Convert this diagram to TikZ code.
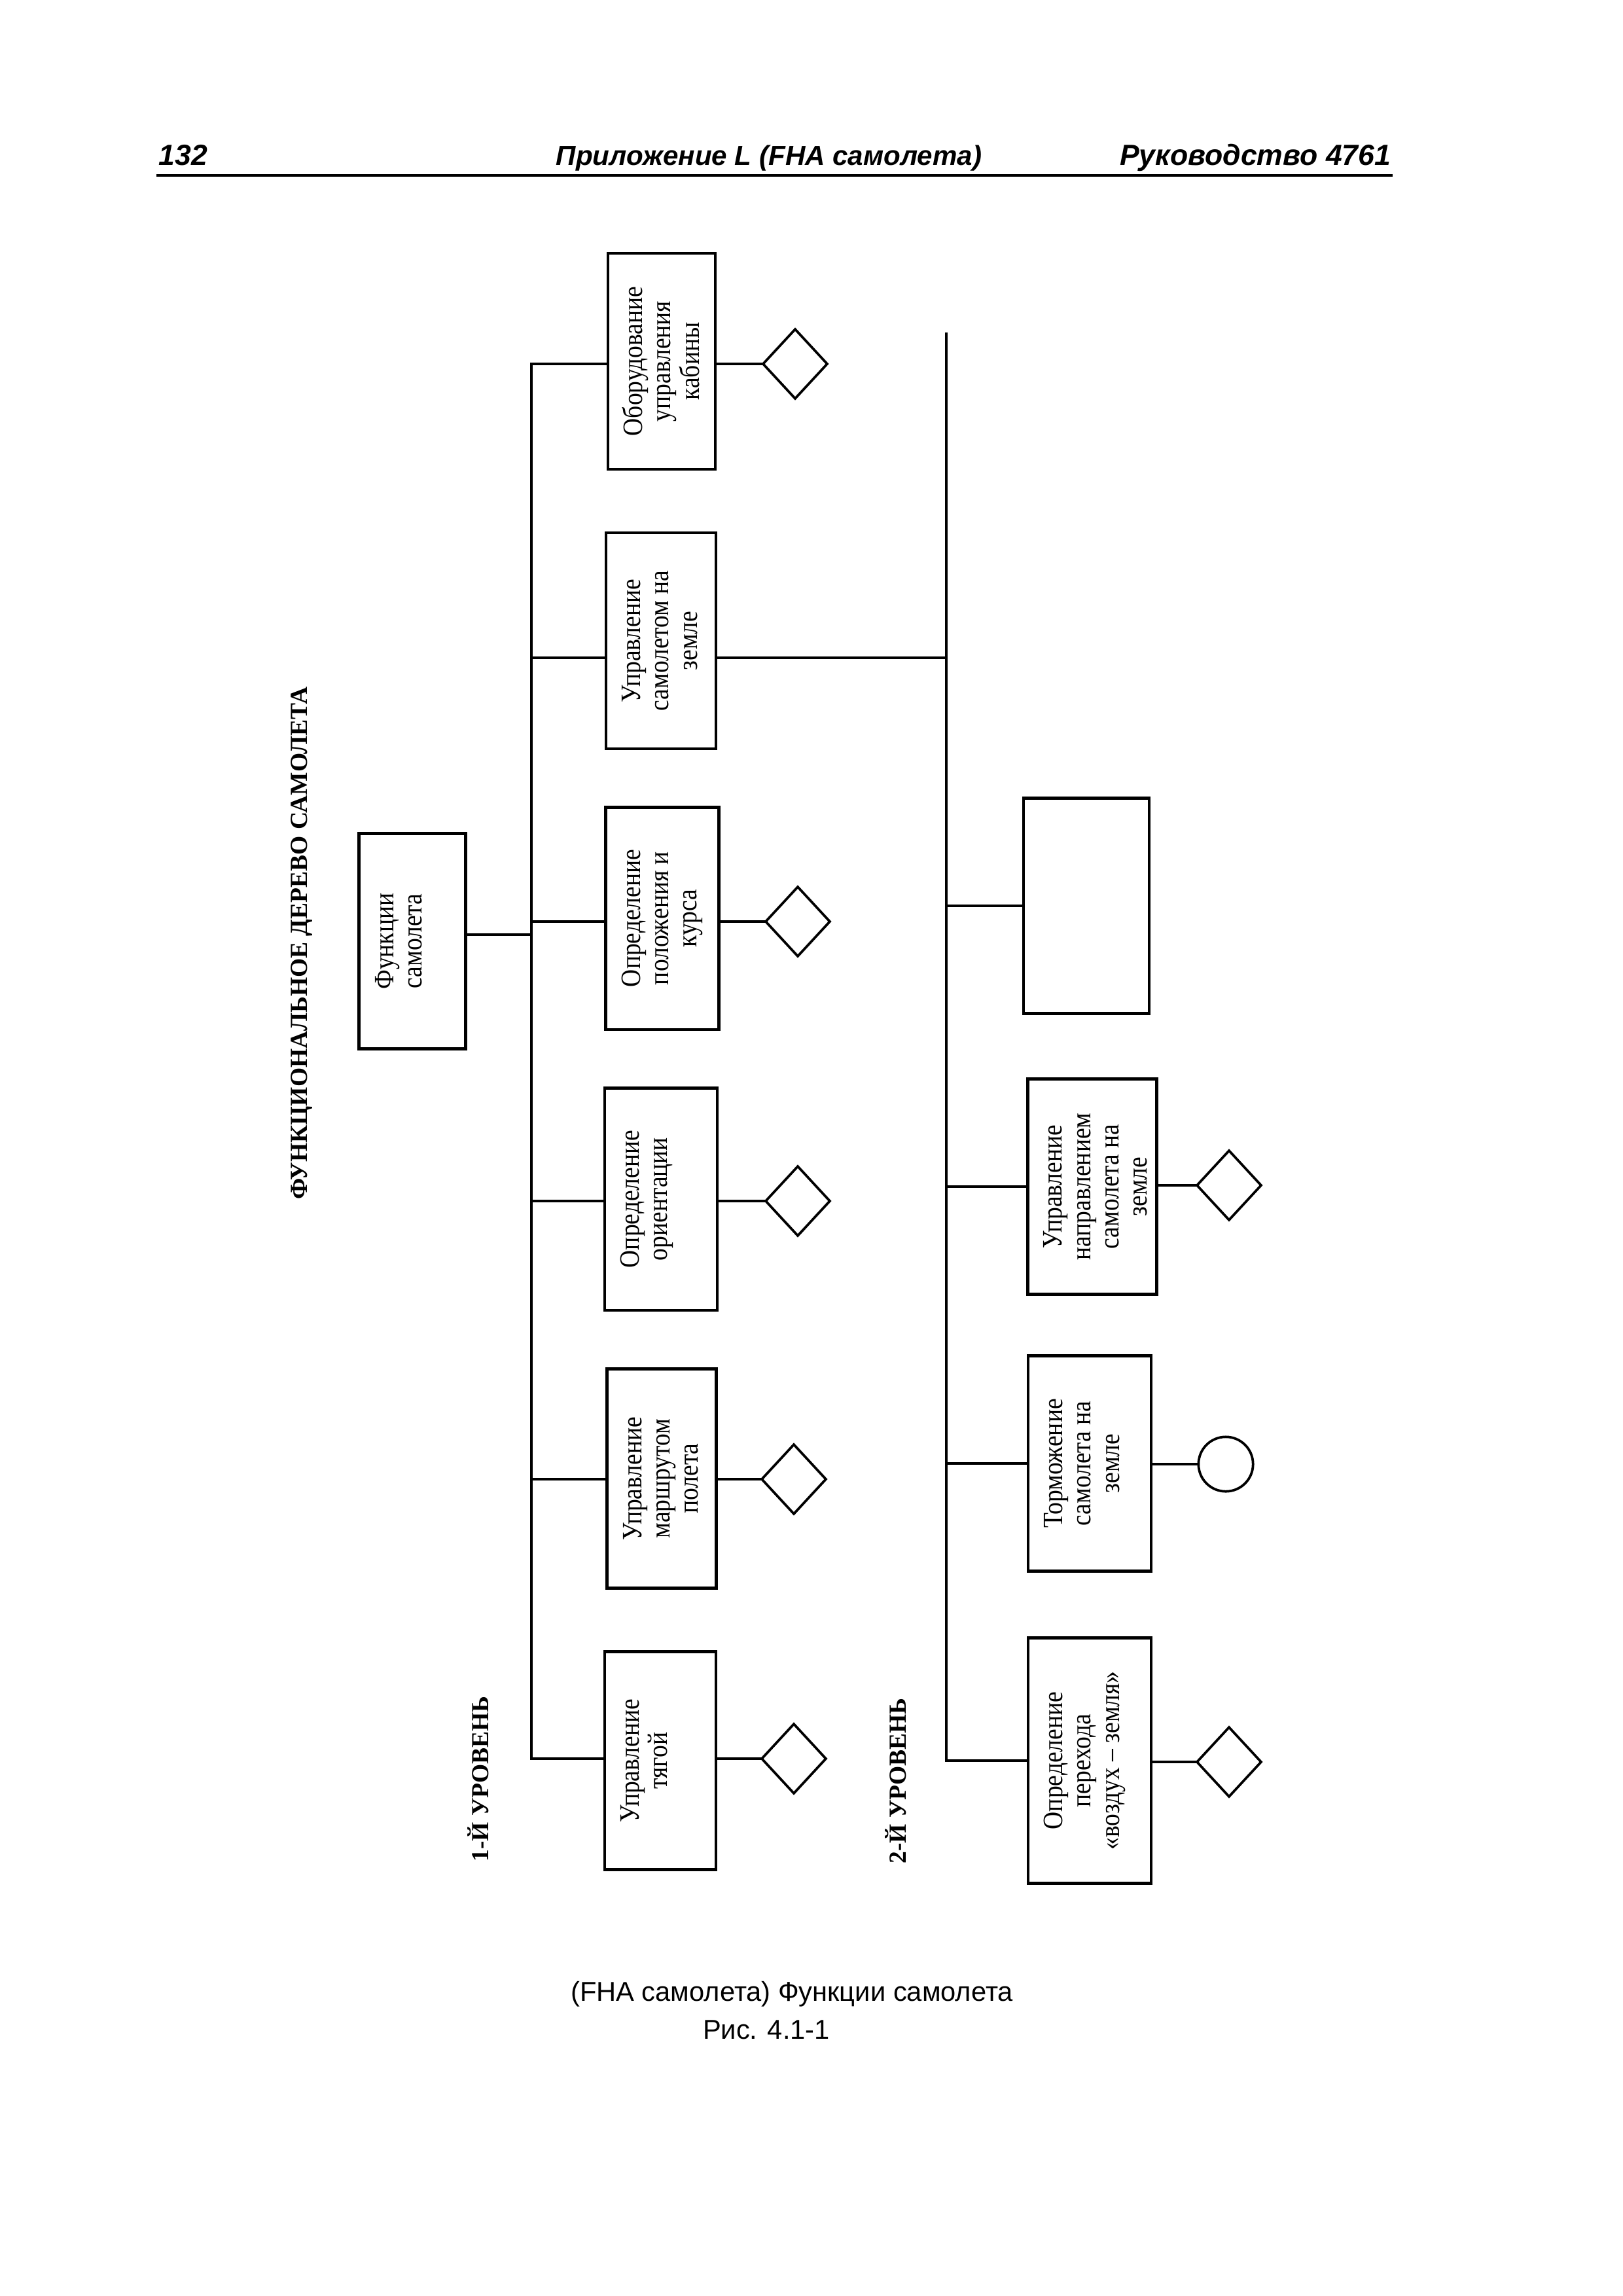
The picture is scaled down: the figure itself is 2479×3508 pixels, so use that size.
\documentclass[tikz,border=0pt]{standalone}
\usepackage{graphicx}
\usepackage{fontspec}
\setmainfont{Liberation Serif}
\newfontfamily\hdrfont{Liberation Sans}
\usetikzlibrary{shapes.geometric}
% #1 = box width on page, #2 = box height on page (both without unit, in pt)
\newcommand{\boxtxt}[3]{\rotatebox{90}{\scalebox{0.875}[1]{\parbox[c][#1pt][t]{\dimexpr #2pt*8/7\relax}{\fontsize{10.3}{10.4}\selectfont\centering\rule{0pt}{12.6pt}#3}}}}
\tikzset{
  fnbox/.style={draw, line width=1.1pt, inner sep=0pt, outer sep=0pt, rectangle},
  conn/.style={line width=0.95pt},
  dmd/.style={draw, diamond, line width=0.9pt, inner sep=0pt, outer sep=0pt, minimum width=23.5pt, minimum height=25.4pt},
  crc/.style={draw, circle, line width=0.9pt, inner sep=0pt, outer sep=0pt, minimum size=20pt},
  lvl/.style={rotate=90, inner sep=0pt, font=\fontsize{9}{11}\selectfont\bfseries},
  hdr/.style={inner sep=0pt, font=\hdrfont\fontsize{10.7}{13}\selectfont\bfseries\itshape},
  captxt/.style={inner sep=0pt, font=\hdrfont\fontsize{10}{12}\selectfont},
}
\begin{document}
\begin{tikzpicture}[x=0.24pt, y=-0.24pt]
\path[use as bounding box, fill=white] (0,0) rectangle (2479,3508);

% header
\node[hdr, anchor=base west] (pg) at (242,253) {132};
\node[hdr, anchor=base, font=\hdrfont\fontsize{10.1}{13}\selectfont\bfseries\itshape] (ttl) at (1175,253) {Приложение L (FHA самолета)};
\node[hdr, anchor=base east] (man) at (2126,253) {Руководство 4761};
\coordinate (rl) at (239,268);
\coordinate (rr) at (2128,268);
\draw[line width=1.15pt] (rl) -- (rr);

% title and level labels
\node[lvl] (tree) at (461,1441) {ФУНКЦИОНАЛЬНОЕ ДЕРЕВО САМОЛЕТА};
\node[lvl] (lev1) at (731,2718) {1-Й УРОВЕНЬ};
\node[lvl] (lev2) at (1369,2721) {2-Й УРОВЕНЬ};

% root
\node[fnbox] (root) at (630,1438) {\boxtxt{39.1}{79}{Функции\\самолета}};

% level 1 boxes
\node[fnbox] (b1) at (1011,552) {\boxtxt{39.4}{79.2}{Оборудование\\управления\\кабины}};
\node[fnbox] (b2) at (1010,979) {\boxtxt{40.3}{79.2}{Управление\\самолетом на\\земле}};
\node[fnbox] (b3) at (1012,1403) {\boxtxt{41.5}{81.5}{Определение\\положения и\\курса}};
\node[fnbox] (b4) at (1010,1832) {\boxtxt{41.3}{81.5}{Определение\\ориентации}};
\node[fnbox] (b5) at (1011,2259) {\boxtxt{40}{80.4}{Управление\\маршрутом\\полета}};
\node[fnbox] (b6) at (1009,2690) {\boxtxt{40.8}{79.9}{Управление\\тягой}};

% level 1 diamonds
\node[dmd] (d1) at (1215,556) {};
\node[dmd] (d3) at (1219,1408) {};
\node[dmd] (d4) at (1219,1835) {};
\node[dmd] (d5) at (1213,2260) {};
\node[dmd] (d6) at (1213,2687) {};

% level 2 boxes
\node[fnbox, minimum width=46.1pt, minimum height=79pt] (c1) at (1660,1384) {};
\node[fnbox] (c2) at (1669,1813) {\boxtxt{47.3}{79}{Управление\\направлением\\самолета на\\земле}};
\node[fnbox] (c3) at (1665,2236) {\boxtxt{45.1}{79}{Торможение\\самолета на\\земле}};
\node[fnbox] (c4) at (1665,2690) {\boxtxt{45.1}{90}{Определение\\перехода\\«воздух – земля»}};

% level 2 end symbols
\node[dmd] (e2) at (1878,1811) {};
\node[crc] (e3) at (1873,2237) {};
\node[dmd] (e4) at (1878,2692) {};

% trunks
\coordinate (T1) at (812,1440);
\coordinate (T2) at (1446,508);
\coordinate (R2) at (1010,1005);

% level 1 connectors
\draw[conn] (b1.west |- d1) -- (T1 |- d1) -- (T1 |- d6) -- (b6.west |- d6);
\draw[conn] ([yshift=2.4pt]root.east) -- ([yshift=2.4pt]root.east -| T1);
\draw[conn] (T1 |- R2) -- (b2.west |- R2);
\draw[conn] (T1 |- d3) -- (b3.west |- d3);
\draw[conn] (T1 |- d4) -- (b4.west |- d4);
\draw[conn] (T1 |- d5) -- (b5.west |- d5);
\draw[conn] (b1.east |- d1) -- (d1.west);
\draw[conn] (b3.east |- d3) -- (d3.west);
\draw[conn] (b4.east |- d4) -- (d4.west);
\draw[conn] (b5.east |- d5) -- (d5.west);
\draw[conn] (b6.east |- d6) -- (d6.west);

% level 2 connectors
\draw[conn] (T2) -- (T2 |- c4.west) -- (c4.west);
\draw[conn] (b2.east |- R2) -- (T2 |- R2);
\draw[conn] (c1.west -| T2) -- (c1.west);
\draw[conn] (c2.west -| T2) -- (c2.west);
\draw[conn] (c3.west -| T2) -- (c3.west);
\draw[conn] (c2.east |- e2) -- (e2.west);
\draw[conn] (c3.east |- e3) -- (e3.west);
\draw[conn] (c4.east |- e4) -- (e4.west);

% caption
\node[captxt] (cap1) at (1210,3047) {(FHA самолета) Функции самолета};
\node[captxt] (cap2) at (1171,3101) {Рис. 4.1-1};
\end{tikzpicture}
\end{document}
